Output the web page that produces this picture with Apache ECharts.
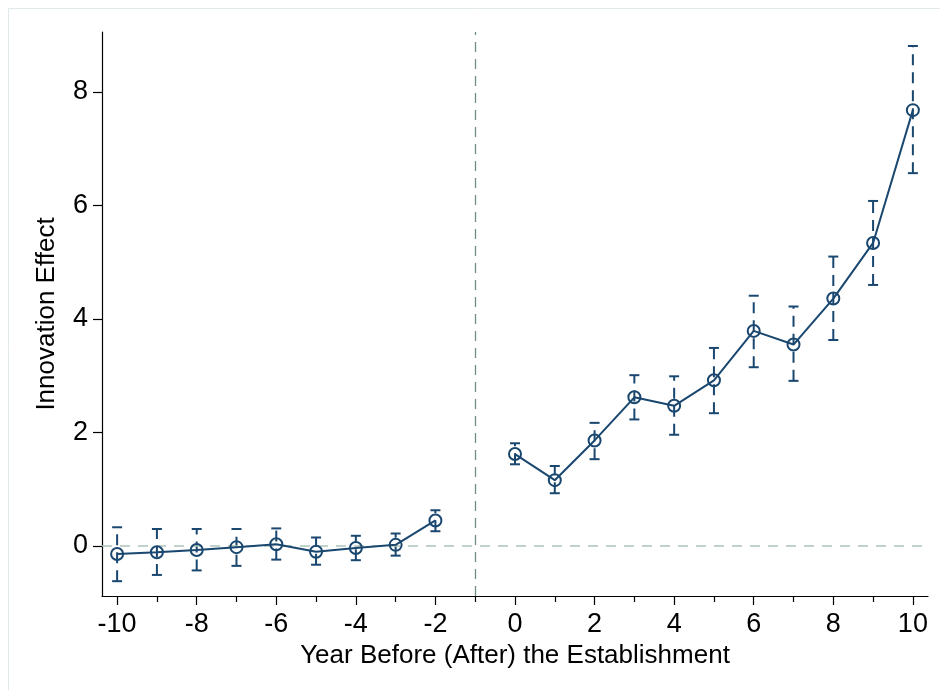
<!DOCTYPE html>
<html>
<head>
<meta charset="utf-8">
<script src="https://cdn.jsdelivr.net/npm/echarts@6/dist/echarts.min.js"></script>
<style>
html,body{margin:0;padding:0;background:#fff;}
#c{width:940px;height:690px;}
</style>
</head>
<body>
<div id="c"></div>
<script>
// Event-study estimates (years relative to establishment)
var preYears  = [-10, -9, -8, -7, -6, -5, -4, -3, -2];
var preEffect = [-0.14, -0.11, -0.07, -0.02, 0.03, -0.10, -0.035, 0.02, 0.45];
var preUpper  = [0.33, 0.30, 0.30, 0.30, 0.31, 0.15, 0.18, 0.22, 0.63];
var preLower  = [-0.62, -0.51, -0.43, -0.35, -0.24, -0.33, -0.25, -0.17, 0.26];

var postYears  = [0, 1, 2, 3, 4, 5, 6, 7, 8, 9, 10];
var postEffect = [1.62, 1.16, 1.86, 2.62, 2.47, 2.92, 3.79, 3.55, 4.36, 5.34, 7.68];
var postUpper  = [1.81, 1.41, 2.17, 3.01, 2.99, 3.49, 4.41, 4.22, 5.10, 6.08, 8.81];
var postLower  = [1.44, 0.93, 1.53, 2.23, 1.96, 2.34, 3.15, 2.91, 3.63, 4.60, 6.57];

var xMajorTicks = [-10, -8, -6, -4, -2, 0, 2, 4, 6, 8, 10];
var xMinorTicks = [-9, -7, -5, -3, -1, 1, 3, 5, 7, 9];
var yTicks = [0, 2, 4, 6, 8];
var eventYear = -1;
var xTitle = 'Year Before (After) the Establishment';
var yTitle = 'Innovation Effect';

var navy = '#1a476f';
var FONT = "'Liberation Sans', Arial, sans-serif";

function pairs(xs, ys) { return xs.map(function (x, i) { return [x, ys[i]]; }); }
function triples(xs, lo, hi) { return xs.map(function (x, i) { return [x, lo[i], hi[i]]; }); }

function renderCI(params, api) {
  var lo = api.coord([api.value(0), api.value(1)]);
  var hi = api.coord([api.value(0), api.value(2)]);
  var cw = 5;
  var st = { stroke: navy, lineWidth: 2 };
  return {
    type: 'group',
    children: [
      { type: 'line', shape: { x1: lo[0], y1: lo[1], x2: hi[0], y2: hi[1] },
        style: { stroke: navy, lineWidth: 2, lineDash: [11, 7] } },
      { type: 'line', shape: { x1: lo[0] - cw, y1: lo[1], x2: lo[0] + cw, y2: lo[1] }, style: st },
      { type: 'line', shape: { x1: hi[0] - cw, y1: hi[1], x2: hi[0] + cw, y2: hi[1] }, style: st }
    ]
  };
}

var chart = echarts.init(document.getElementById('c'), null, { renderer: 'canvas' });

var lineSeries = function (data) {
  return {
    type: 'line', xAxisIndex: 0, yAxisIndex: 0, data: data,
    symbol: 'circle', symbolSize: 12, showSymbol: true,
    lineStyle: { color: navy, width: 2 },
    itemStyle: { color: 'rgba(0,0,0,0)', borderColor: navy, borderWidth: 2 },
    emphasis: { disabled: true }, animation: false, z: 5
  };
};

chart.setOption({
  backgroundColor: '#ffffff',
  animation: false,
  textStyle: { fontFamily: FONT },
  graphic: [{
    type: 'rect', left: 6, top: 6, z: -1,
    shape: { x: 0.5, y: 0.5, width: 1200, height: 1200 },
    style: { fill: 'none', stroke: '#e2e9ec', lineWidth: 1 }
  }],
  grid: { left: 102, right: 12, top: 32, bottom: 94 },
  xAxis: [{
    type: 'value', min: -10.38, max: 10.38,
    axisLine: { show: true, onZero: false, lineStyle: { color: '#000', width: 1.2 } },
    axisTick: { show: true, length: 9, lineStyle: { color: '#000', width: 1.2 }, customValues: xMajorTicks },
    axisLabel: { customValues: xMajorTicks, color: '#000', fontSize: 27, fontFamily: FONT, margin: 15 },
    splitLine: { show: false },
    name: xTitle, nameLocation: 'middle', nameGap: 45,
    nameTextStyle: { color: '#000', fontSize: 26, fontFamily: FONT }
  }, {
    type: 'value', min: -10.38, max: 10.38, position: 'bottom',
    axisLine: { show: false, onZero: false },
    axisTick: { show: true, length: 6, lineStyle: { color: '#000', width: 1.2 }, customValues: xMinorTicks },
    axisLabel: { show: false },
    splitLine: { show: false }
  }],
  yAxis: [{
    type: 'value', min: -0.881, max: 9.057,
    axisLine: { show: true, onZero: false, lineStyle: { color: '#000', width: 1.2 } },
    axisTick: { show: true, length: 9, lineStyle: { color: '#000', width: 1.2 }, customValues: yTicks },
    axisLabel: { customValues: yTicks, color: '#000', fontSize: 27, fontFamily: FONT, margin: 14 },
    splitLine: { show: false },
    name: yTitle, nameLocation: 'middle', nameGap: 42, nameRotate: 90,
    nameTextStyle: { color: '#000', fontSize: 26, fontFamily: FONT }
  }],
  series: [
    {
      type: 'line', data: [], xAxisIndex: 0, yAxisIndex: 0, silent: true,
      markLine: {
        silent: true, symbol: 'none', animation: false,
        label: { show: false },
        data: [
          { yAxis: 0, lineStyle: { color: '#adc3bb', type: [10, 8], width: 1.5 } },
          { xAxis: eventYear, lineStyle: { color: '#6f8f86', type: [10, 7], width: 1.3 } }
        ]
      }
    },
    { type: 'custom', renderItem: renderCI, data: triples(preYears, preLower, preUpper), encode: { x: 0, y: [1, 2] }, z: 3, silent: true },
    { type: 'custom', renderItem: renderCI, data: triples(postYears, postLower, postUpper), encode: { x: 0, y: [1, 2] }, z: 3, silent: true },
    lineSeries(pairs(preYears, preEffect)),
    lineSeries(pairs(postYears, postEffect))
  ]
});
</script>
</body>
</html>
